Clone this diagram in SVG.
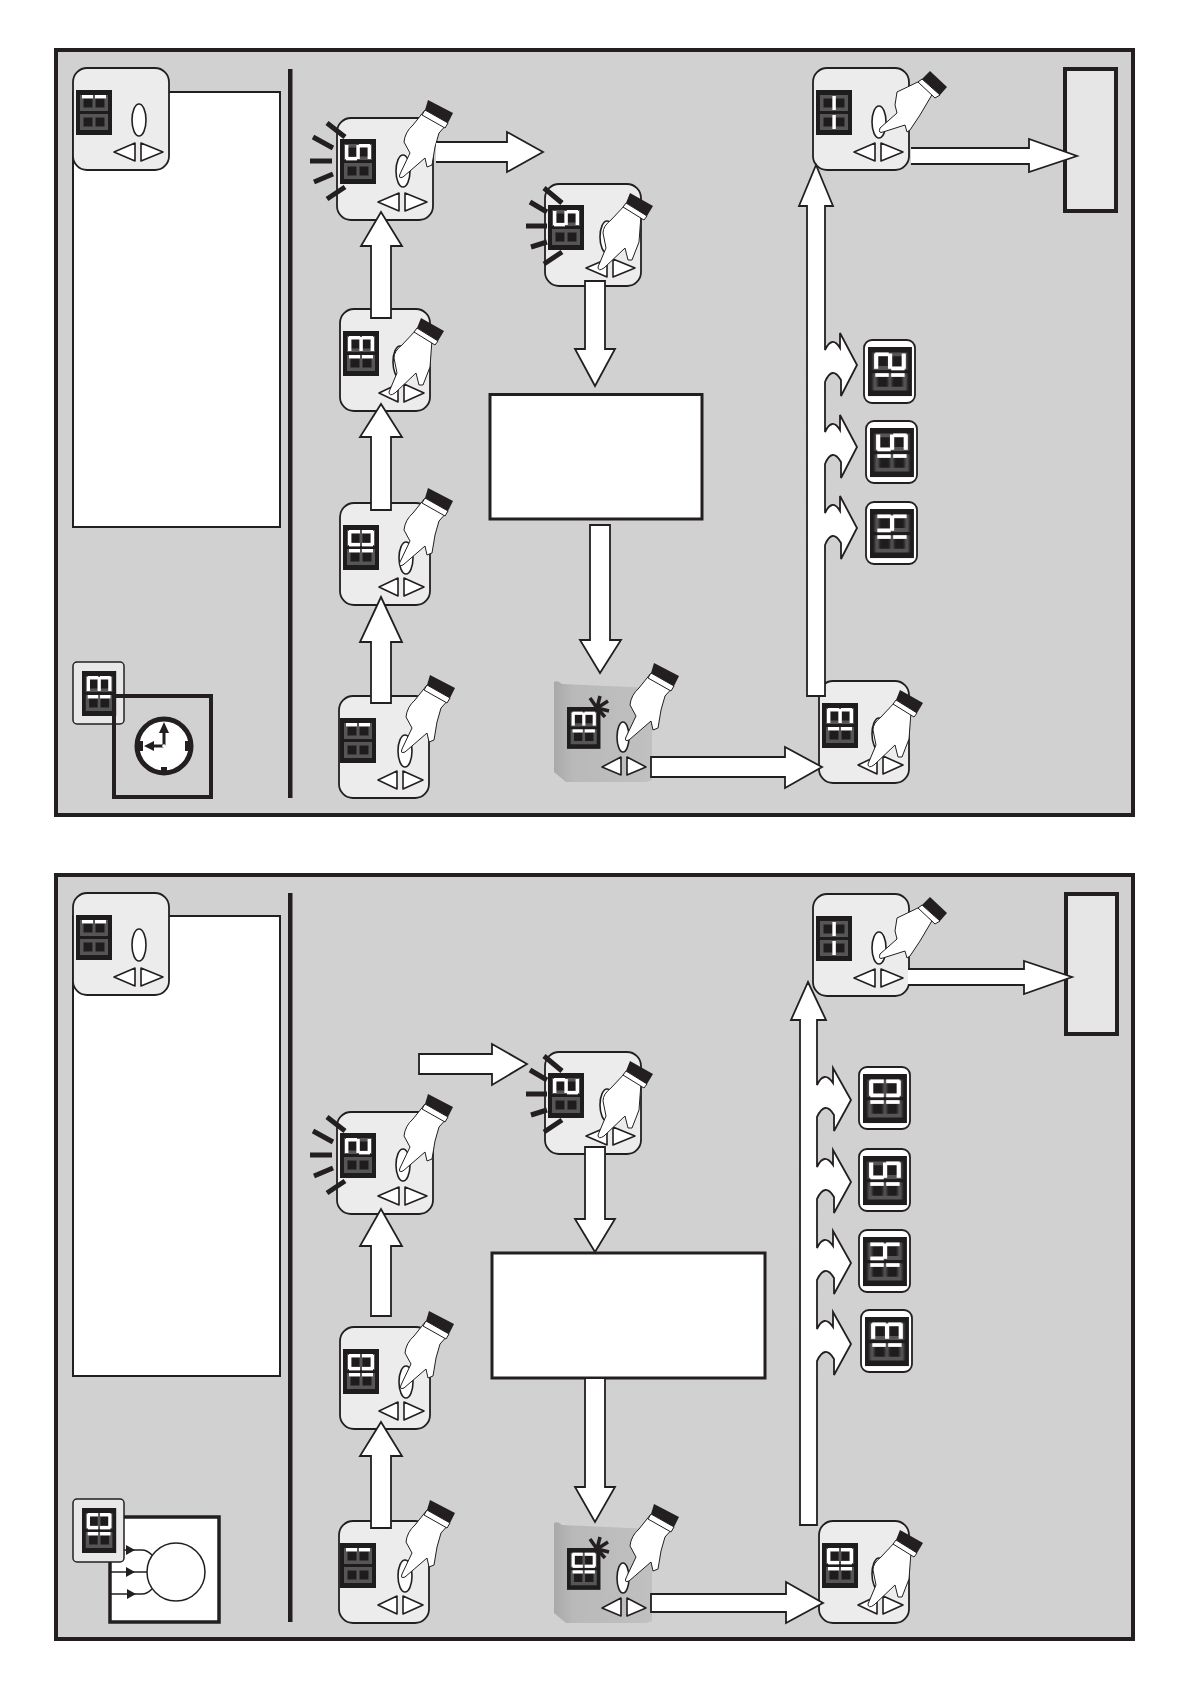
<svg xmlns="http://www.w3.org/2000/svg" width="1190" height="1684" viewBox="0 0 1190 1684">
<style>
.panel{fill:#d1d1d1;stroke:#231f20;stroke-width:4}
.white{fill:#fff;stroke:#231f20;stroke-width:2}
.white3{fill:#fff;stroke:#231f20;stroke-width:3}
.body{fill:#ececec;stroke:#231f20;stroke-width:1.8}
.ctl{fill:#fff;stroke:#231f20;stroke-width:1.6;stroke-linejoin:round}
.hand{fill:#fff;stroke:#231f20;stroke-width:1;stroke-linejoin:round}
.band{fill:#231f20}
.ray{stroke:#231f20;stroke-width:5;fill:none}
.spoke{stroke:#231f20;stroke-width:3.500;fill:none}
.arrow{fill:#fff;stroke:#231f20;stroke-width:1.8;stroke-linejoin:miter}
.lcd{fill:#1f1c1d}
.g{fill:#565656}
.w{fill:#fff}
.thin{fill:none;stroke:#231f20;stroke-width:1.6}
.thick{fill:none;stroke:#231f20;stroke-width:4}
.card{fill:#fff;stroke:#231f20;stroke-width:1.8}
</style>
<defs>
<filter id="soft" x="-10%" y="-10%" width="120%" height="120%"><feGaussianBlur stdDeviation="0.7"/></filter>
<linearGradient id="bev" x1="0" x2="1" y1="0" y2="0"><stop offset="0" stop-color="#a9a9a9"/><stop offset="0.2" stop-color="#b9b9b9"/><stop offset="1" stop-color="#c0c0c0"/></linearGradient>
<rect id="sb" class="w" x="1" y="0" width="11" height="3.400"/>
<rect id="sc" class="w" x="14" y="0" width="11" height="3.400"/>
<rect id="sf" class="w" x="1" y="13" width="11" height="3.400"/>
<rect id="se" class="w" x="14" y="13" width="11" height="3.400"/>
<rect id="sa" class="w" x="0" y="1" width="3.400" height="14"/>
<rect id="sm" class="w" x="11.400" y="1" width="3.400" height="14"/>
<rect id="sd" class="w" x="22.600" y="1" width="3.400" height="14"/>
<g id="n0"><use href="#sa"/><use href="#sb"/><use href="#sc"/><use href="#sd"/><use href="#se"/><use href="#sf"/></g>
<g id="n1"><use href="#sb"/><use href="#sc"/></g>
<g id="n2"><use href="#sa"/><use href="#sb"/><use href="#sm"/><use href="#se"/><use href="#sd"/></g>
<g id="n3"><use href="#sa"/><use href="#sb"/><use href="#sm"/><use href="#sc"/><use href="#sd"/></g>
<g id="n4"><use href="#sf"/><use href="#sm"/><use href="#sb"/><use href="#sc"/></g>
<g id="n5"><use href="#sa"/><use href="#sf"/><use href="#sm"/><use href="#sc"/><use href="#sd"/></g>
<g id="ghost" filter="url(#soft)"><path class="g" fill-rule="evenodd" d="M4 5h28v16h-28zM7.500 8.500v9h9v-9zM19.500 8.500v9h9v-9zM4 24h28v16h-28zM7.500 27.500v9h9v-9zM19.500 27.500v9h9v-9z"/></g>
<g id="lcd"><rect class="lcd" width="36" height="45"/><use href="#ghost"/></g>
<g id="d13"><use href="#lcd"/><use href="#n3" x="5" y="5"/><use href="#n1" x="5" y="24"/></g>
<g id="d10"><use href="#lcd"/><use href="#n0" x="5" y="5"/><use href="#n1" x="5" y="24"/></g>
<g id="d12"><use href="#lcd"/><use href="#n2" x="5" y="5"/><use href="#n1" x="5" y="24"/></g>
<g id="d14"><use href="#lcd"/><use href="#n4" x="5" y="5"/><use href="#n1" x="5" y="24"/></g>
<g id="d15"><use href="#lcd"/><use href="#n5" x="5" y="5"/><use href="#n1" x="5" y="24"/></g>
<g id="d01"><use href="#lcd"/><use href="#n1" x="5" y="5"/></g>
<g id="d5"><use href="#lcd"/><use href="#n5" x="5" y="5"/></g>
<g id="d2"><use href="#lcd"/><use href="#n2" x="5" y="5"/></g>
<g id="ddash"><use href="#lcd"/><use href="#sm" x="5" y="5"/><use href="#sm" x="5" y="24"/></g>
<g id="bodyW"><rect class="body" width="96" height="102" rx="14"/><path class="ctl" d="M41 84L62 75V93ZM68 75L90 84L68 93Z"/></g>
<g id="bodyN"><rect class="body" width="90" height="102" rx="14"/><path class="ctl" d="M39 84L58 75V93ZM64 75L84 84L64 93Z"/></g>
<ellipse id="oval" class="ctl" rx="7" ry="16"/>
<g id="handA"><path class="hand" d="M88 -8L76 7Q68 14 67 24L73 35L63 56Q61 61 66 59L88 40L90 49L95 47L98 29L102 15L111 5Z"/><path class="band" d="M91 -18L116 -5L111 5L88 -8Z"/><path class="hand" d="M88 -8L111 5L108 10L85 -3Z"/></g>
<g id="handB"><path class="hand" d="M77 20L62 36Q54 42 54 49L57 64L49 83Q49 88 55 84L76 64L79 76L83 76L90 58L92 31L98 32Z"/><path class="band" d="M81 9L104 22L98 32L77 19Z"/><path class="hand" d="M77 19L98 32L95 36L74 23Z"/></g>
<g id="handC"><path class="hand" d="M109 12L84 24L82 37L84 45L67 60Q65 66 70 64L92 57L94 64L97 62L107 47L120 25L127 27Z"/><path class="band" d="M117 3L134 19L127 27L109 11Z"/><path class="hand" d="M109 11L127 27L122 30L105 14Z"/></g>
<g id="rays"><path class="ray" d="M-10 5L8 19M-24 19L-4 30M-27 43H-5M-23 64L-4 56M-10 81L8 69"/></g>
<g id="rays2"><path class="ray" d="M-1 4L17 19M-15 18L2 28M-19 42H2M-14 63L2 58M-1 80L17 68"/></g>
<g id="star"><path class="spoke" d="M0 0L-7 -10M0 0L3 -12M0 0L11 -7M0 0L12 3M0 0L8 9"/></g>
<g id="greyBody"><path fill="url(#bev)" d="M554 682Q558 680 562 684L652 688V780L646 782H566L554 772Z"/><path class="ctl" d="M602 767L621 757V775ZM627 757L646 767L627 775Z"/><ellipse class="ctl" cx="623" cy="737" rx="6" ry="15"/></g>
</defs>

<g id="panel1">
<rect class="panel" x="56" y="50" width="1077" height="765"/>
<rect x="288" y="69" width="4.500" height="729" fill="#231f20"/>
<rect id="p1-legend-box" class="white" x="73" y="92" width="207" height="435"/>
<rect id="p1-target" x="1065" y="69" width="51" height="142" fill="#e6e6e6" stroke="#231f20" stroke-width="4"/>
<rect id="p1-text-box" class="white3" x="490" y="394.500" width="212" height="124.500"/>
</g>
<g id="panel2">
<rect class="panel" x="56" y="875" width="1077" height="764"/>
<rect x="288" y="893" width="4.500" height="729" fill="#231f20"/>
<rect id="p2-legend-box" class="white" x="73" y="916" width="207" height="460"/>
<rect id="p2-target" x="1066" y="894" width="51" height="140" fill="#e6e6e6" stroke="#231f20" stroke-width="4"/>
<rect id="p2-text-box" class="white3" x="492" y="1253" width="273" height="125"/>
</g>

<g id="p1-n0"><use href="#bodyW" x="73" y="68"/><use href="#d01" x="76" y="90"/><use href="#oval" x="139" y="120"/></g>
<g id="p1-clock">
<rect x="73" y="662" width="51" height="62" rx="4" fill="#e8e8e8" stroke="#231f20" stroke-width="1.500"/>
<use href="#d13" transform="translate(82,671) scale(0.95,1)"/>
<rect class="thick" x="114" y="696" width="97" height="101"/>
<circle cx="164" cy="746" r="27" fill="#fff" stroke="#231f20" stroke-width="5"/>
<path d="M164 746V731M164 746H151" stroke="#231f20" stroke-width="3"/>
<path d="M164 722L169 733H159ZM144 746L154 741V751Z" fill="#231f20"/>
<path d="M135 741h8v10h-8zM185 741h8v10h-8zM161 767h6v8h-6z" fill="#231f20"/>
<circle cx="164" cy="746" r="1.800" fill="#fff"/>
</g>
<g id="p1-n1" transform="translate(339,696)"><use href="#bodyN"/><use href="#d01" x="1" y="22"/><use href="#oval" x="66" y="55"/><use href="#handA" y="-3"/></g>
<g id="p1-n2" transform="translate(340,503)"><use href="#bodyN"/><use href="#d10" x="3" y="22"/><use href="#oval" x="66" y="55"/><use href="#handA" x="-3" y="3"/></g>
<g id="p1-n3" transform="translate(340,309)"><use href="#bodyN"/><use href="#d13" x="3" y="22"/><use href="#oval" x="60" y="53"/><use href="#handB"/></g>
<g id="p1-n4" transform="translate(337,118)"><use href="#bodyW"/><use href="#d5" x="3" y="21"/><use href="#oval" x="66" y="53"/><use href="#handA"/><use href="#rays"/></g>
<g id="p1-n5" transform="translate(545,184)"><use href="#bodyW"/><use href="#d5" x="3" y="21"/><use href="#oval" x="62" y="53"/><use href="#handB" x="4"/><use href="#rays2"/></g>
<g id="p1-n6"><use href="#greyBody"/><use href="#d13" transform="translate(567,707) scale(0.93)"/><use href="#star" x="597" y="708"/><use href="#handA" x="563" y="681"/></g>
<g id="p1-n7" transform="translate(819,681)"><use href="#bodyN"/><use href="#d13" x="3" y="22"/><use href="#oval" x="60" y="53"/><use href="#handB"/></g>
<g id="p1-n8" transform="translate(813,68)"><use href="#bodyW"/><use href="#ddash" x="3" y="22"/><use href="#oval" x="66" y="54"/><use href="#handC"/></g>
<g id="p1-c12"><rect class="card" x="864" y="340" width="51" height="63" rx="8"/><use href="#d12" transform="translate(868,347) scale(1.22,1.09)"/></g>
<g id="p1-c15"><rect class="card" x="866" y="421" width="51" height="62" rx="8"/><use href="#d15" transform="translate(870,428) scale(1.22,1.09)"/></g>
<g id="p1-c14"><rect class="card" x="866" y="502" width="51" height="62" rx="8"/><use href="#d14" transform="translate(870,509) scale(1.22,1.09)"/></g>

<g id="p2-n0"><use href="#bodyW" x="73" y="893"/><use href="#d01" x="76" y="915"/><use href="#oval" x="139" y="945"/></g>
<g id="p2-motor">
<rect x="110" y="1517" width="109" height="105" fill="#fff" stroke="#231f20" stroke-width="3.500"/>
<circle cx="176" cy="1572" r="29" fill="#fff" stroke="#231f20" stroke-width="1.500"/>
<path class="thin" d="M110 1550H142Q147 1550 152 1555M110 1572H147M110 1594H142Q147 1594 152 1589"/>
<path fill="#231f20" d="M126 1545L135 1550L126 1555ZM126 1567L135 1572L126 1577ZM127 1589L136 1594L127 1599Z"/>
<rect x="73" y="1499" width="51" height="63" rx="4" fill="#e8e8e8" stroke="#231f20" stroke-width="1.500"/>
<use href="#d10" transform="translate(82,1508) scale(0.95,1)"/>
</g>
<g id="p2-n1" transform="translate(339,1521)"><use href="#bodyN"/><use href="#d01" x="1" y="22"/><use href="#oval" x="66" y="55"/><use href="#handA" y="-3"/></g>
<g id="p2-n2" transform="translate(340,1327)"><use href="#bodyN"/><use href="#d10" x="3" y="22"/><use href="#oval" x="66" y="55"/><use href="#handA" x="-2" y="2"/></g>
<g id="p2-n3" transform="translate(337,1112)"><use href="#bodyW"/><use href="#d2" x="3" y="21"/><use href="#oval" x="66" y="53"/><use href="#handA"/><use href="#rays"/></g>
<g id="p2-n4" transform="translate(545,1052)"><use href="#bodyW"/><use href="#d2" x="3" y="21"/><use href="#oval" x="62" y="53"/><use href="#handB" x="4"/><use href="#rays2"/></g>
<g id="p2-n5" transform="translate(0,841)"><use href="#greyBody"/><use href="#d10" transform="translate(567,707) scale(0.93)"/><use href="#star" x="597" y="708"/><use href="#handA" x="563" y="681"/></g>
<g id="p2-n6" transform="translate(819,1521)"><use href="#bodyN"/><use href="#d10" x="3" y="22"/><use href="#oval" x="60" y="53"/><use href="#handB"/></g>
<g id="p2-n7" transform="translate(813,894)"><use href="#bodyW"/><use href="#ddash" x="3" y="22"/><use href="#oval" x="66" y="54"/><use href="#handC"/></g>
<g id="p2-c10"><rect class="card" x="859" y="1067" width="51" height="62" rx="8"/><use href="#d10" transform="translate(863,1074) scale(1.22,1.09)"/></g>
<g id="p2-c15"><rect class="card" x="859" y="1149" width="51" height="62" rx="8"/><use href="#d15" transform="translate(863,1156) scale(1.22,1.09)"/></g>
<g id="p2-c14"><rect class="card" x="859" y="1230" width="51" height="62" rx="8"/><use href="#d14" transform="translate(863,1237) scale(1.22,1.09)"/></g>
<g id="p2-c13"><rect class="card" x="861" y="1310" width="51" height="62" rx="8"/><use href="#d13" transform="translate(865,1317) scale(1.22,1.09)"/></g>

<g id="connectors">
<path class="arrow" d="M371 703V642H360L381 597L402 642H391V703Z"/>
<path class="arrow" d="M371 510V437H360L381 404L402 437H391V510Z"/>
<path class="arrow" d="M371 318V246H361L381 212L402 246H391V318Z"/>
<path class="arrow" d="M436 142H507V132L543 152L507 172V162H436"/>
<path class="arrow" d="M585 281V349H575L595 386L615 349H605V281Z"/>
<path class="arrow" d="M590 525V640H580L600 673L621 640H610V525Z"/>
<path class="arrow" d="M651 757H785V747L822 767L785 788V777H651Z"/>
<path class="arrow" d="M807 696V206H799L816 165L833 206H825V350Q832 335 840 348V333L857 365L841 396V380Q832 365 825 382V432Q832 417 840 430V415L857 447L841 478V462Q832 447 825 464V513Q832 498 840 511V496L857 528L841 559V543Q832 528 825 545V696Z"/>
<path class="arrow" d="M911 148H1029V139L1077 156L1029 172V164H911"/>

<path class="arrow" d="M371 1528V1456H360L381 1422L402 1456H391V1528Z"/>
<path class="arrow" d="M371 1316V1246H360L381 1209L402 1246H391V1316Z"/>
<path class="arrow" d="M419 1054H492V1044L527 1064L492 1085V1074H419Z"/>
<path class="arrow" d="M585 1147V1219H575L595 1252L615 1219H605V1147Z"/>
<path class="arrow" d="M585 1378V1487H575L595 1522L615 1487H605V1378Z"/>
<path class="arrow" d="M651 1594H786V1582L823 1603L786 1623V1612H651Z"/>
<path class="arrow" d="M800 1525V1020H791L808 982L826 1020H817V1085Q824 1070 833 1083V1068L851 1100L834 1131V1115Q825 1100 817 1117V1167Q824 1152 833 1165V1150L851 1182L834 1213V1197Q825 1182 817 1199V1248Q824 1233 833 1246V1231L851 1263L834 1294V1278Q825 1263 817 1280V1329Q824 1314 833 1327V1312L851 1344L834 1375V1359Q825 1344 817 1361V1525Z"/>
<path class="arrow" d="M908 969H1024V961L1072 977L1024 994V985H908"/>
</g>
</svg>
